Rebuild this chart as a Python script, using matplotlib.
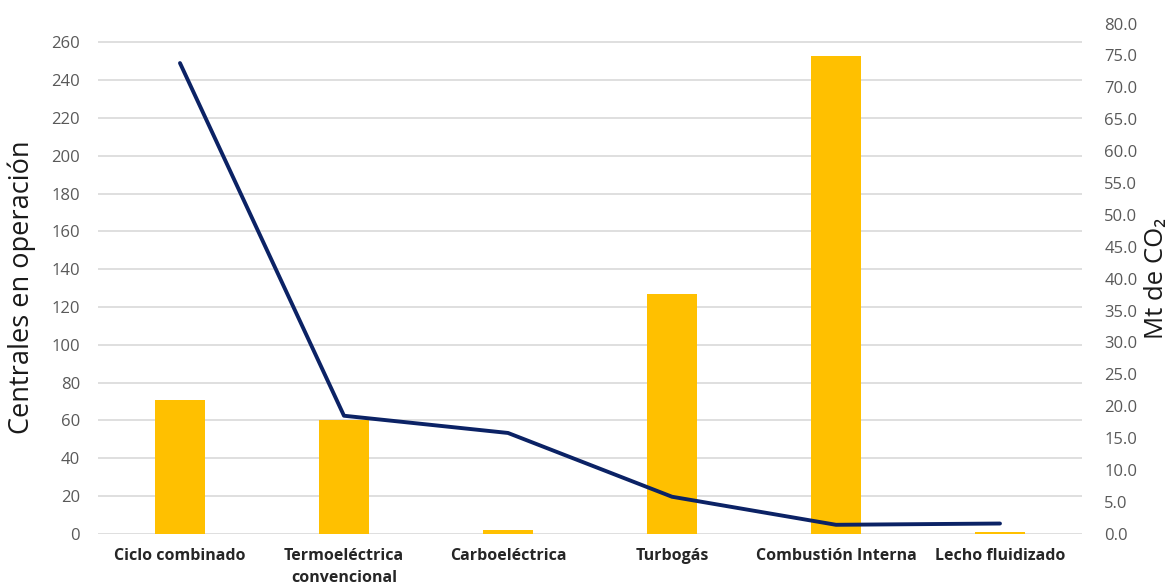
import matplotlib
matplotlib.use("Agg")
import matplotlib.pyplot as plt
import numpy as np

categories = ["Ciclo combinado", "Termoeléctrica\nconvencional", "Carboeléctrica",
              "Turbogás", "Combustión Interna", "Lecho fluidizado"]
centrales = [71, 60, 2, 127, 253, 1]
emisiones = [73.8, 18.5, 15.8, 5.8, 1.4, 1.6]
left_ticks = list(range(0, 261, 20))
right_ticks = [i * 5.0 for i in range(17)]

tick_color = "#595959"
fam = ["Open Sans", "DejaVu Sans"]
xfam = ["Liberation Sans Narrow", "Open Sans", "DejaVu Sans"]

fig = plt.figure(figsize=(11.72, 5.88), dpi=100)
ax = fig.add_axes([0.0836, 0.0923, 0.8396, 0.8677])
x = np.arange(len(categories))
ax.bar(x, centrales, width=0.30, color="#FFC000", zorder=2)
ax.set_xlim(-0.5, len(categories) - 0.5)
ax.set_ylim(0, 270)
ax.set_yticks(left_ticks)
ax.set_yticklabels([str(v) for v in left_ticks], fontsize=12, color=tick_color, family=fam)
ax.yaxis.grid(True, color="#d9d9d9", linewidth=1.2, zorder=0)
ax.set_axisbelow(True)
ax.tick_params(axis="both", length=0)
ax.tick_params(axis="y", pad=13)
ax.tick_params(axis="x", pad=10)
ax.set_xticks(x)
ax.set_xticklabels(categories, fontsize=11.5, fontweight="bold", color="#262626", family=xfam,
                   linespacing=1.5, va="top")
for s in ax.spines.values():
    s.set_visible(False)
ax.set_ylabel("Centrales en operación", fontsize=19.5, color="#1a1a1a", family=fam)
ax.yaxis.set_label_coords(-0.063, 0.4835)

ax2 = ax.twinx()
ax2.plot(x, emisiones, color="#0B2265", linewidth=2.8, solid_capstyle="round", zorder=3)
ax2.set_ylim(0, 80)
ax2.set_yticks(right_ticks)
ax2.set_yticklabels([f"{v:.1f}" for v in right_ticks], fontsize=12, color=tick_color, family=fam)
ax2.tick_params(axis="y", length=0, pad=16)
for s in ax2.spines.values():
    s.set_visible(False)
ax2.set_ylabel("Mt de CO₂", fontsize=18.5, color="#1a1a1a", family=fam)
ax2.yaxis.set_label_coords(1.063, 0.50)

fig.savefig("out.png", dpi=100)
